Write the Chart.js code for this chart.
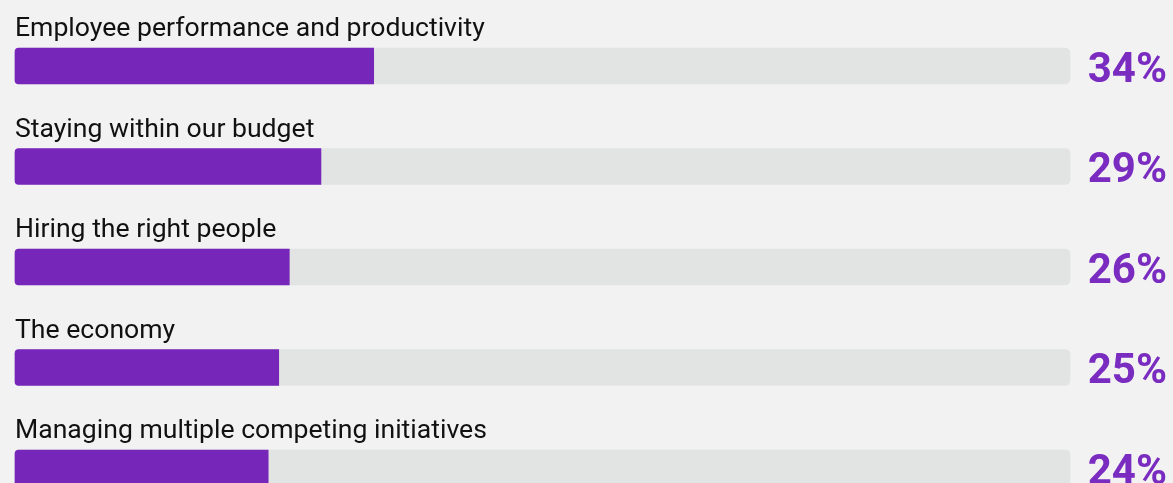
<!DOCTYPE html>
<html>
<head>
<meta charset="utf-8">
<script src="https://cdn.jsdelivr.net/npm/chart.js@4"></script>
<style>
    html, body { margin: 0; padding: 0; background: #f2f2f2; }
    #wrap { width: 1173px; height: 483px; }
</style>
</head>
<body>
<div id="wrap"><canvas id="bars"></canvas></div>
<script>
const categories = [
    'Employee performance and productivity',
    'Staying within our budget',
    'Hiring the right people',
    'The economy',
    'Managing multiple competing initiatives'
];
const shares = [34, 29, 26, 25, 24];
const trackMax = [100, 100, 100, 100, 100];

// draws the category name above each bar and the share on the right
const labelPlugin = {
    id: 'barLabels',
    afterDatasetsDraw(chart) {
        const ctx = chart.ctx;
        const meta = chart.getDatasetMeta(1);
        ctx.save();
        meta.data.forEach((bar, i) => {
            ctx.fillStyle = '#111111';
            ctx.font = '26.6px Roboto';
            ctx.textAlign = 'left';
            ctx.textBaseline = 'alphabetic';
            ctx.fillText(categories[i], chart.chartArea.left, bar.y - 30);

            ctx.fillStyle = '#7a2cc0';
            ctx.font = 'bold 42px Roboto';
            ctx.textAlign = 'right';
            ctx.fillText(shares[i] + '%', 1167, bar.y + 15.5);
        });
        ctx.restore();
    }
};

new Chart(document.getElementById('bars'), {
    type: 'bar',
    data: {
        labels: categories,
        datasets: [
            {
                data: shares,
                backgroundColor: '#7627b9',
                borderRadius: { topLeft: 4, bottomLeft: 4, topRight: 0, bottomRight: 0 },
                borderSkipped: false,
                barThickness: 36,
                grouped: false,
                clip: false,
                order: 1
            },
            {
                data: trackMax,
                backgroundColor: '#e2e3e3',
                borderRadius: 5,
                borderSkipped: false,
                barThickness: 36,
                grouped: false,
                clip: false,
                order: 2
            }
        ]
    },
    options: {
        indexAxis: 'y',
        responsive: true,
        maintainAspectRatio: false,
        animation: false,
        layout: { padding: { left: 15, right: 103, top: 66, bottom: 15 } },
        scales: {
            x: { display: false, min: 0, max: 100 },
            y: { display: false, offset: false }
        },
        plugins: {
            legend: { display: false },
            tooltip: { enabled: false }
        }
    },
    plugins: [labelPlugin]
});
</script>
</body>
</html>
